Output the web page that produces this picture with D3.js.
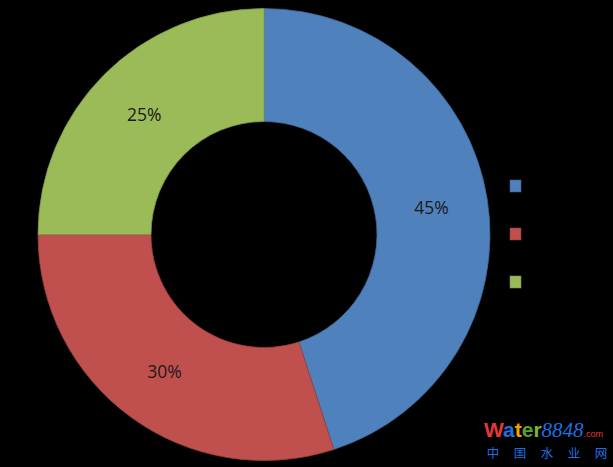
<!DOCTYPE html>
<html><head><meta charset="utf-8">
<script src="https://cdn.jsdelivr.net/npm/d3@7"></script>
<style>html,body{margin:0;padding:0;background:#000;overflow:hidden}</style>
</head><body>
<svg id="c" width="613" height="467"></svg>
<script>
const categories = ["A", "B", "C"];
const values = [45, 30, 25];
const labels = ["45%", "30%", "25%"];
const colors = ["#4F81BD", "#C0504D", "#9BBB59"];
const watermarkChars = ["中", "国", "水", "业", "网"];

const svg = d3.select("#c");
svg.append("rect").attr("width", 613).attr("height", 467).attr("fill", "#000");

const cx = 264, cy = 234.5, R = 226, r = 113;
const pie = d3.pie().sort(null).value(d => d)(values);
const arc = d3.arc().innerRadius(r).outerRadius(R);
const g = svg.append("g").attr("transform", `translate(${cx},${cy})`);
g.selectAll("path").data(pie).join("path")
  .attr("d", arc)
  .attr("fill", (d, i) => colors[i])
  .attr("stroke", (d, i) => d3.color(colors[i]).darker(0.6))
  .attr("stroke-width", 0.8);
g.selectAll("text").data(pie).join("text")
  .attr("transform", d => `translate(${arc.centroid(d)})`)
  .attr("text-anchor", "middle").attr("dy", "0.35em")
  .attr("font-family", "Open Sans, sans-serif").attr("font-size", 17.5)
  .attr("fill", "#1a1a1a")
  .text((d, i) => labels[i]);

// legend
const ly = d3.scalePoint().domain(categories).range([186, 282]);
const lg = svg.append("g");
lg.selectAll("rect").data(categories).join("rect")
  .attr("x", 510).attr("y", d => ly(d) - 6).attr("width", 11).attr("height", 12)
  .attr("fill", (d, i) => colors[i])
  .attr("stroke", (d, i) => d3.color(colors[i]).darker(0.8)).attr("stroke-width", 0.6);

// watermark
const wm = svg.append("text").attr("x", 484).attr("y", 437)
  .attr("font-family", "Liberation Sans, Arial, sans-serif").attr("font-weight", "bold").attr("font-size", 21);
[["W","#e53935"],["a","#1e6fe0"],["t","#f5a000"],["e","#5aa02c"],["r","#7cb82f"]].forEach(([t,c]) =>
  wm.append("tspan").attr("fill", c).text(t));
wm.append("tspan").attr("fill", "#1e6fe0").attr("font-family", "Liberation Serif, serif")
  .attr("font-style", "italic").attr("font-weight", "normal").attr("font-size", 21).text("8848");
wm.append("tspan").attr("fill", "#e53935").attr("font-weight", "normal").attr("font-size", 9).text(".com");
const cxScale = d3.scalePoint().domain(watermarkChars).range([493, 601]);
svg.append("g").selectAll("text").data(watermarkChars).join("text")
  .attr("x", d => cxScale(d)).attr("y", 458).attr("text-anchor", "middle")
  .attr("font-family", "Noto Sans CJK SC, sans-serif").attr("font-size", 12.5)
  .attr("fill", "#1e6fe0").text(d => d);
</script>
</body></html>
